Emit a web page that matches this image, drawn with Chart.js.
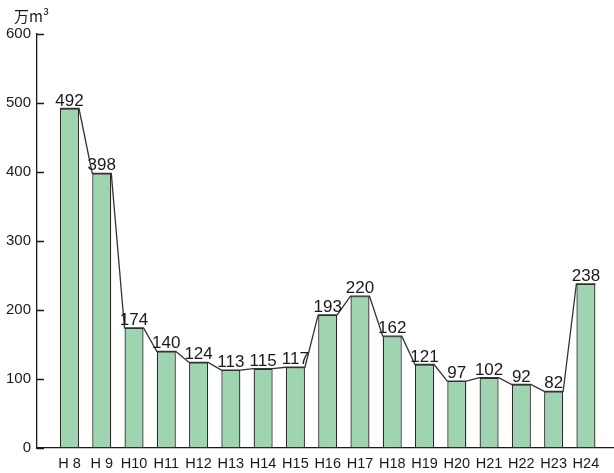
<!DOCTYPE html>
<html>
<head>
<meta charset="utf-8">
<script src="https://cdn.jsdelivr.net/npm/chart.js@4"></script>
<style>
  html, body { margin: 0; padding: 0; background: #fff; }
  #wrap { width: 614px; height: 473px; }
</style>
</head>
<body>
<div id="wrap"><canvas id="chartCanvas"></canvas></div>
<script>
// 年度（平成）
var years = ['H 8', 'H 9', 'H10', 'H11', 'H12', 'H13', 'H14', 'H15', 'H16', 'H17', 'H18', 'H19', 'H20', 'H21', 'H22', 'H23', 'H24'];
// 万m³
var volumes = [492, 398, 174, 140, 124, 113, 115, 117, 193, 220, 162, 121, 97, 102, 92, 82, 238];
var yTicks = [0, 100, 200, 300, 400, 500, 600];
var unitLabel = '万m³';

var ink = '#1a1a1a';
var fontFamily = '"Liberation Sans", Arial, sans-serif';

// 棒の上端をつなぐ線・数値・目盛り・単位
var overlay = {
  id: 'overlay',
  afterDatasetsDraw: function(chart) {
    var ctx = chart.ctx;
    var meta = chart.getDatasetMeta(0);
    var yScale = chart.scales.y;
    var area = chart.chartArea;

    ctx.save();
    ctx.strokeStyle = '#333';
    ctx.lineWidth = 1.3;
    ctx.beginPath();
    meta.data.forEach(function(bar, i) {
      var half = bar.width / 2;
      if (i === 0) ctx.moveTo(bar.x - half, bar.y);
      else ctx.lineTo(bar.x - half, bar.y);
      ctx.lineTo(bar.x + half, bar.y);
    });
    ctx.stroke();

    // 数値ラベル
    ctx.fillStyle = ink;
    ctx.font = '17px ' + fontFamily;
    ctx.textAlign = 'center';
    ctx.textBaseline = 'alphabetic';
    meta.data.forEach(function(bar, i) {
      ctx.fillText(String(volumes[i]), bar.x, bar.y - 3);
    });

    // 内向きの目盛り
    ctx.strokeStyle = ink;
    ctx.lineWidth = 1.3;
    ctx.beginPath();
    yTicks.forEach(function(v) {
      var py = Math.round(yScale.getPixelForValue(v)) + 0.5;
      ctx.moveTo(area.left, py);
      ctx.lineTo(area.left + 7, py);
    });
    ctx.stroke();

    // 単位
    ctx.font = '15px "Noto Sans CJK JP", ' + fontFamily;
    ctx.textAlign = 'left';
    ctx.fillText(unitLabel, 14, 22);
    ctx.restore();
  }
};

var ctx = document.getElementById('chartCanvas').getContext('2d');
var currentChart = new Chart(ctx, {
  type: 'bar',
  data: {
    datasets: [{
      data: volumes.map(function(v, i) { return { x: i, y: v }; }),
      backgroundColor: '#9fd4b1',
      borderColor: '#2a2a2a',
      borderWidth: 1.3,
      borderSkipped: false,
      categoryPercentage: 1,
      barPercentage: 0.59
    }]
  },
  options: {
    responsive: true,
    maintainAspectRatio: false,
    animation: false,
    layout: { padding: { top: 34, left: 0, right: 0, bottom: 0 } },
    plugins: {
      legend: { display: false },
      tooltip: { enabled: false }
    },
    scales: {
      x: {
        type: 'linear',
        offset: false,
        min: -1.006,
        max: 16.87,
        afterBuildTicks: function(scale) {
          scale.ticks = years.map(function(label, i) { return { value: i }; });
        },
        afterFit: function(scale) { scale.height = 25; },
        grid: { display: false, drawTicks: false, offset: false },
        border: { display: true, color: ink, width: 1.3 },
        ticks: {
          autoSkip: false,
          maxRotation: 0,
          padding: 7,
          color: ink,
          font: { family: fontFamily, size: 14.5 },
          callback: function(value) { return years[value]; }
        }
      },
      y: {
        min: 0,
        max: 600,
        afterBuildTicks: function(scale) {
          scale.ticks = yTicks.map(function(v) { return { value: v }; });
        },
        afterFit: function(scale) { scale.width = 37; },
        grid: { display: false, drawTicks: false },
        border: { display: true, color: ink, width: 1.3 },
        ticks: {
          padding: 6,
          color: ink,
          font: { family: fontFamily, size: 15 }
        }
      }
    }
  },
  plugins: [overlay]
});
</script>
</body>
</html>
